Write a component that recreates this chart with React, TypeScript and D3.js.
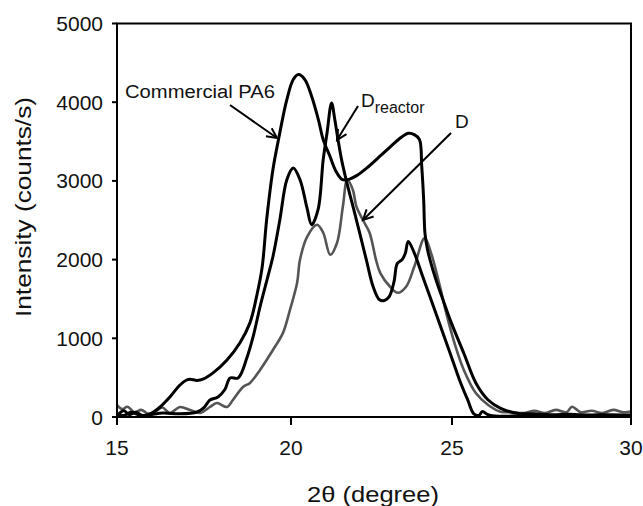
import React from "react";
import * as d3 from "d3";

// tick values
const xTicks = [15, 20, 25, 30];
const yTicks = [0, 1000, 2000, 3000, 4000, 5000];

// [2theta, intensity]
const pa6 = [
  [15.0, 40], [15.2, 20], [15.4, 60], [15.6, 30], [15.8, 20], [16.0, 50],
  [16.24, 127], [16.52, 254], [16.81, 407], [17.0, 470], [17.1, 480], [17.3, 465],
  [17.47, 480], [17.76, 560], [18.16, 725], [18.53, 941], [18.82, 1196], [19.02, 1550],
  [19.17, 1900], [19.3, 2506], [19.48, 3142], [19.64, 3524], [19.88, 4033], [20.07, 4288],
  [20.23, 4351], [20.43, 4288], [20.64, 4075], [20.85, 3779], [21.0, 3524], [21.21, 3312],
  [21.4, 3120], [21.6, 3015], [21.8, 3020], [22.05, 3070], [22.4, 3180], [22.78, 3320],
  [23.1, 3440], [23.35, 3530], [23.64, 3605], [23.83, 3588], [23.99, 3524], [24.06, 3185],
  [24.12, 2761], [24.16, 2337], [24.24, 2125], [24.47, 1785], [24.72, 1489], [24.98, 1196],
  [25.33, 810], [25.67, 429], [26.01, 216], [26.36, 110], [26.82, 47], [27.3, 40],
  [27.8, 30], [28.3, 35], [28.8, 25], [29.3, 30], [30.0, 25],
];

const dReactor = [
  [15.0, 20], [15.2, 80], [15.35, 30], [15.55, 60], [15.75, 10], [16.0, 30],
  [16.32, 51], [16.8, 40], [17.3, 64], [17.5, 120], [17.67, 216], [17.9, 254],
  [18.1, 350], [18.25, 496], [18.48, 496], [18.74, 763], [18.91, 1018], [19.11, 1400],
  [19.31, 1743], [19.48, 2036], [19.68, 2506], [19.88, 3015], [20.07, 3164], [20.28, 3015],
  [20.5, 2650], [20.64, 2443], [20.84, 2634], [21.0, 3270], [21.12, 3613], [21.26, 3990],
  [21.36, 3780], [21.46, 3524], [21.57, 3270], [21.7, 3036], [22.03, 2506], [22.34, 1997],
  [22.55, 1658], [22.75, 1489], [22.9, 1480], [23.05, 1530], [23.2, 1720], [23.3, 1950],
  [23.45, 2000], [23.55, 2080], [23.64, 2230], [23.83, 2083], [24.09, 1785], [24.35, 1489],
  [24.72, 1065], [24.98, 767], [25.21, 471], [25.44, 216], [25.61, 40], [25.75, 20],
  [25.85, 70], [26.0, 30], [26.3, 10], [27.0, 15], [28.0, 10], [29.0, 15], [30.0, 10],
];

const dSample = [
  [15.0, 150], [15.15, 100], [15.3, 130], [15.5, 60], [15.7, 90], [15.9, 40],
  [16.1, 70], [16.3, 120], [16.52, 51], [16.81, 127], [17.1, 89], [17.39, 51],
  [17.67, 127], [17.87, 178], [18.16, 127], [18.33, 216], [18.62, 382], [18.82, 433],
  [19.11, 598], [19.48, 852], [19.77, 1069], [19.97, 1361], [20.19, 1705], [20.28, 2000],
  [20.5, 2290], [20.81, 2443], [21.0, 2341], [21.22, 2061], [21.43, 2214], [21.61, 2672],
  [21.75, 3015], [21.92, 2888], [22.03, 2676], [22.23, 2506], [22.44, 2341], [22.64, 1997],
  [22.77, 1832], [23.07, 1658], [23.32, 1578], [23.58, 1658], [23.83, 1912], [24.15, 2273],
  [24.35, 2083], [24.6, 1701], [24.85, 1276], [25.1, 894], [25.33, 598], [25.67, 301],
  [26.01, 153], [26.36, 67], [26.7, 60], [27.0, 50], [27.3, 80], [27.6, 50],
  [27.9, 90], [28.2, 60], [28.35, 130], [28.6, 60], [28.9, 80], [29.2, 50],
  [29.5, 90], [29.8, 60], [30.0, 70],
];

const width = 643;
const height = 506;
const left = 117;
const right = 631;
const top = 23.5;
const bottom = 417;
const font = "'Liberation Sans', Arial, sans-serif";

const App = () => {
  // the scanned axis is a little uneven, so follow its tick positions
  const x = d3.scaleLinear().domain(xTicks).range([left, 291, 452, right]);
  const y = d3.scaleLinear().domain([0, 5000]).range([bottom, top]);

  const line = d3
    .line<number[]>()
    .x((d) => x(d[0]))
    .y((d) => y(d[1]))
    .curve(d3.curveCatmullRom.alpha(0.5));

  return (
    <svg
      width={width}
      height={height}
      style={{ position: "absolute", left: 0, top: 0, background: "#fff" }}
      fontFamily={font}
    >
      <defs>
        <marker
          id="head"
          markerUnits="userSpaceOnUse"
          markerWidth={14}
          markerHeight={14}
          refX={11}
          refY={6}
          orient="auto"
        >
          <path d="M1,1 L11,6 L1,11" fill="none" stroke="#000" strokeWidth={2} />
        </marker>
      </defs>

      {/* curves */}
      <path d={line(dSample) || ""} fill="none" stroke="#555" strokeWidth={2.6} />
      <path d={line(dReactor) || ""} fill="none" stroke="#000" strokeWidth={3} />
      <path d={line(pa6) || ""} fill="none" stroke="#000" strokeWidth={3} />

      {/* frame */}
      <rect
        x={left}
        y={top}
        width={right - left}
        height={bottom - top}
        fill="none"
        stroke="#000"
        strokeWidth={2}
      />

      {/* y axis */}
      {yTicks.map((t) => (
        <g key={"y" + t}>
          <line x1={left - 5} x2={left} y1={y(t)} y2={y(t)} stroke="#000" strokeWidth={2} />
          <text
            x={103}
            y={y(t)}
            dy="0.36em"
            textAnchor="end"
            fontSize={21}
            fill="#111"
          >
            {t}
          </text>
        </g>
      ))}

      {/* x axis */}
      {xTicks.map((t) => (
        <g key={"x" + t}>
          <line x1={x(t)} x2={x(t)} y1={bottom} y2={bottom + 8} stroke="#000" strokeWidth={2} />
          <text x={x(t)} y={455} textAnchor="middle" fontSize={21} fill="#111">
            {t}
          </text>
        </g>
      ))}

      <text
        transform="translate(31,207) rotate(-90)"
        textAnchor="middle"
        fontSize={22}
        textLength={220}
        lengthAdjust="spacingAndGlyphs"
        fill="#111"
      >
        Intensity (counts/s)
      </text>
      <text
        x={373}
        y={502}
        textAnchor="middle"
        fontSize={22}
        textLength={132}
        lengthAdjust="spacingAndGlyphs"
        fill="#111"
      >
        2θ (degree)
      </text>

      {/* annotations */}
      <text x={125} y={98} fontSize={18} textLength={150} lengthAdjust="spacingAndGlyphs" fill="#111">
        Commercial PA6
      </text>
      <line x1={230} y1={105} x2={277} y2={138} stroke="#000" strokeWidth={2} markerEnd="url(#head)" />

      <text x={361} y={107} fontSize={19} fill="#111">
        D
        <tspan dy={6} fontSize={16}>reactor</tspan>
      </text>
      <line x1={358} y1={106} x2={337} y2={140} stroke="#000" strokeWidth={2} markerEnd="url(#head)" />

      <text x={455} y={128} fontSize={19} fill="#111">
        D
      </text>
      <line x1={451} y1={133} x2={363} y2={220} stroke="#000" strokeWidth={2} markerEnd="url(#head)" />
    </svg>
  );
};

export default App;
